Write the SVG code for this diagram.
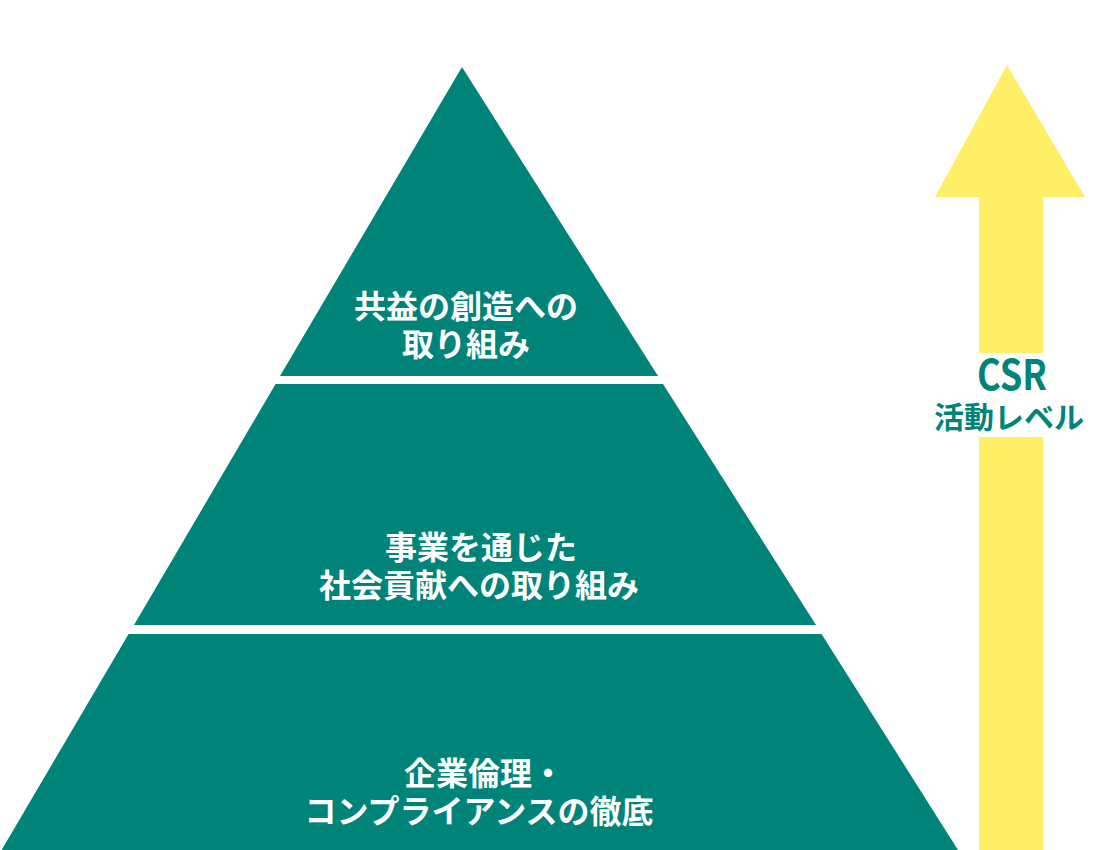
<svg xmlns="http://www.w3.org/2000/svg" width="1095" height="850" viewBox="0 0 1095 850">
  <style>
    .tier { fill: #00847A; }
    .tlabel { font-family: "Noto Sans CJK JP", "Noto Sans", sans-serif; font-weight: 700; font-size: 32px; fill: #FFFFFF; text-anchor: middle; }
    .arrow { fill: #FFEF66; }
    .alabel { font-family: "Noto Sans CJK JP", "Noto Sans", sans-serif; font-weight: 700; fill: #00847A; text-anchor: middle; }
  </style>
  <rect width="1095" height="850" fill="#FFFFFF"/>
  <g id="tier-top">
    <polygon class="tier" points="462,67 658,376 280,376"/>
    <text class="tlabel" x="466" y="318">共益の創造への</text>
    <text class="tlabel" x="466" y="356">取り組み</text>
  </g>
  <g id="tier-middle">
    <polygon class="tier" points="275.6,384 663,384 816,625 134,625"/>
    <text class="tlabel" x="481" y="559">事業を通じた</text>
    <text class="tlabel" x="479" y="597">社会貢献への取り組み</text>
  </g>
  <g id="tier-bottom">
    <polygon class="tier" points="128.6,634 821.5,634 958,850 1.6,850"/>
    <text class="tlabel" x="484" y="785">企業倫理・</text>
    <text class="tlabel" x="479" y="823">コンプライアンスの徹底</text>
  </g>
  <g id="csr-arrow">
    <polygon class="arrow" points="1007,65 1085,197 935,197"/>
    <rect class="arrow" x="979" y="196" width="64" height="157"/>
    <rect class="arrow" x="979" y="437" width="64" height="413"/>
  </g>
  <g id="csr-label">
    <text class="alabel" x="1012" y="390" font-size="42" textLength="70" lengthAdjust="spacingAndGlyphs">CSR</text>
    <text class="alabel" x="1009" y="428" font-size="30">活動レベル</text>
  </g>
</svg>
